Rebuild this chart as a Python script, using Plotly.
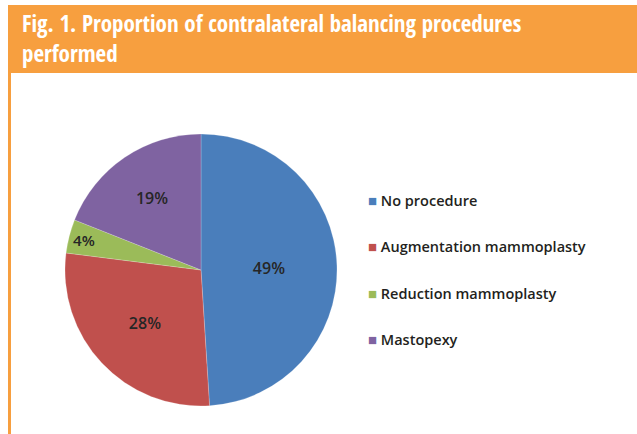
import plotly.graph_objects as go

categories = ["No procedure", "Augmentation mammoplasty", "Reduction mammoplasty", "Mastopexy"]
values = [49, 28, 4, 19]
colors = ["#4A7EBB", "#C0504D", "#9BBB59", "#7F63A1"]
title_lines = ["Fig. 1. Proportion of contralateral balancing procedures", "performed"]

W, H = 637, 434
ORANGE = "#F79F3F"

fig = go.Figure()
fig.add_trace(go.Pie(
    labels=categories,
    values=values,
    sort=False,
    direction="clockwise",
    rotation=0,
    marker=dict(colors=colors, line=dict(color="rgba(255,255,255,0.4)", width=0.5)),
    texttemplate="%{value}%",
    textposition="inside",
    insidetextorientation="horizontal",
    textfont=dict(family="Open Sans", size=16, color="#262626", weight=600),
    showlegend=False,
    domain=dict(x=[65 / W, 337 / W], y=[(H - 406) / H, (H - 134) / H]),
    hoverinfo="label+percent",
))

shapes = [
    dict(type="rect", xref="paper", yref="paper", x0=8 / W, x1=1, y0=(H - 73) / H, y1=(H - 5) / H,
         fillcolor=ORANGE, line=dict(width=0), layer="below"),
    dict(type="rect", xref="paper", yref="paper", x0=8 / W, x1=11 / W, y0=0, y1=(H - 73) / H,
         fillcolor=ORANGE, line=dict(width=0), layer="below"),
]

TS = 23
annotations = [dict(
    text="<br>".join(title_lines), xref="paper", yref="paper", x=20 / W, y=(H - 38) / H,
    xanchor="left", yanchor="middle", showarrow=False, align="left",
    font=dict(family="Open Sans Condensed, Roboto Condensed, sans-serif", size=TS,
              color="white", weight="bold"),
)]

# legend built as text items
leg_x = 366 / W
leg_y0 = 200
leg_step = 46.3
for i, (c, col) in enumerate(zip(categories, colors)):
    annotations.append(dict(
        text=f"<span style='color:{col};font-size:15px'>■</span> {c}",
        xref="paper", yref="paper", x=leg_x, y=(H - (leg_y0 + i * leg_step)) / H,
        xanchor="left", yanchor="middle", showarrow=False, align="left",
        font=dict(family="Open Sans", size=14.5, color="#231F20", weight=600),
    ))

fig.update_layout(
    width=W, height=H,
    margin=dict(l=0, r=0, t=0, b=0),
    paper_bgcolor="white",
    plot_bgcolor="white",
    shapes=shapes,
    annotations=annotations,
)

fig.write_html("out.html", config={"displayModeBar": False},
               post_script="document.body.style.margin='0';")
